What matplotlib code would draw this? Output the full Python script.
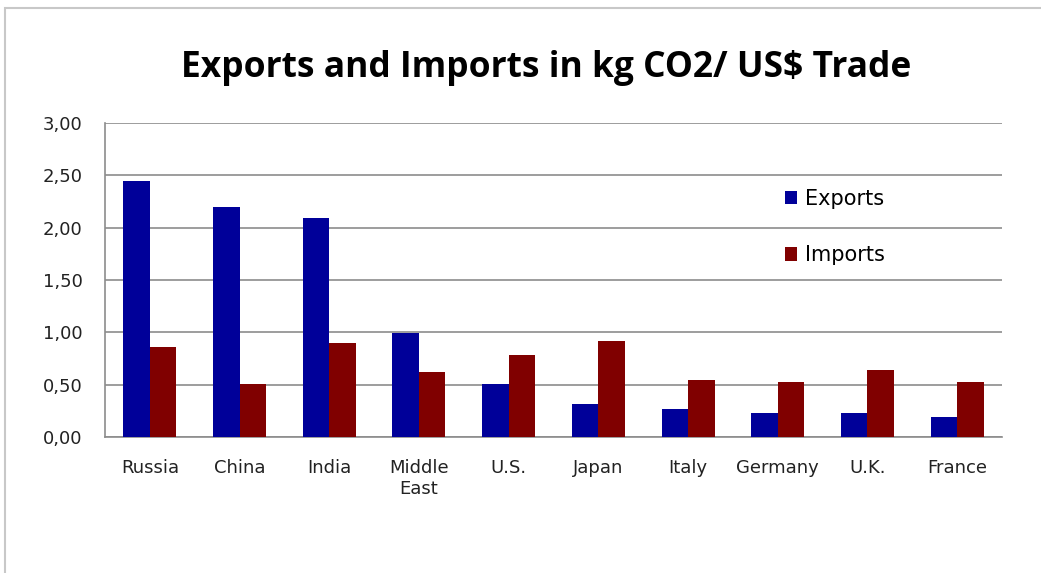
import matplotlib.pyplot as plt
import numpy as np
from matplotlib.ticker import FuncFormatter
from matplotlib.patches import Rectangle

countries = ['Russia', 'China', 'India', 'Middle\nEast', 'U.S.', 'Japan', 'Italy', 'Germany', 'U.K.', 'France']
exports = [2.45, 2.20, 2.09, 0.99, 0.51, 0.32, 0.27, 0.23, 0.23, 0.19]
imports = [0.86, 0.51, 0.90, 0.62, 0.78, 0.92, 0.54, 0.53, 0.64, 0.53]

fig = plt.figure(figsize=(10.41, 5.73), dpi=100)
ax = fig.add_axes([105/1041, 1-437/573, 897/1041, 314/573])

x = np.arange(len(countries))
w = 0.295
ax.bar(x - w/2, exports, w, color='#000099', label='Exports', zorder=3)
ax.bar(x + w/2, imports, w, color='#800000', label='Imports', zorder=3)

ax.set_xlim(-0.5, len(countries) - 0.5)
ax.set_ylim(0, 3)
ax.set_yticks(np.arange(0, 3.01, 0.5))
ax.yaxis.set_major_formatter(FuncFormatter(lambda v, p: f'{v:.2f}'.replace('.', ',')))
ax.grid(axis='y', color='#8c8c8c', linewidth=1.2, zorder=0)
ax.set_xticks(x)
ax.set_xticklabels(countries, fontsize=13, color='#222222', linespacing=1.2)
ax.tick_params(axis='x', length=0, pad=16)
ax.tick_params(axis='y', length=0, labelsize=13, labelcolor='#222222', pad=16)
for s in ['top', 'right']:
    ax.spines[s].set_visible(False)
ax.spines['left'].set_color('#8c8c8c')
ax.spines['bottom'].set_color('#8c8c8c')
ax.spines['left'].set_linewidth(1.2)
ax.spines['bottom'].set_linewidth(1.2)

fig.text(546/1041, 1-68/573, 'Exports and Imports in kg CO2/ US$ Trade', ha='center', va='center',
         fontsize=25.5, fontweight='bold', family='Open Sans')

ax.legend(loc='upper left', bbox_to_anchor=(0.737, 0.85), frameon=False, fontsize=15,
          handlelength=0.6, handleheight=0.6, handletextpad=0.35, labelspacing=1.75)

fig.patches.append(Rectangle((5/1041, -0.1), 1.2, 1 - 8/573 + 0.1, transform=fig.transFigure,
                             fill=False, edgecolor='#c8c8c8', linewidth=1.5))

fig.savefig('out.png', dpi=100)
